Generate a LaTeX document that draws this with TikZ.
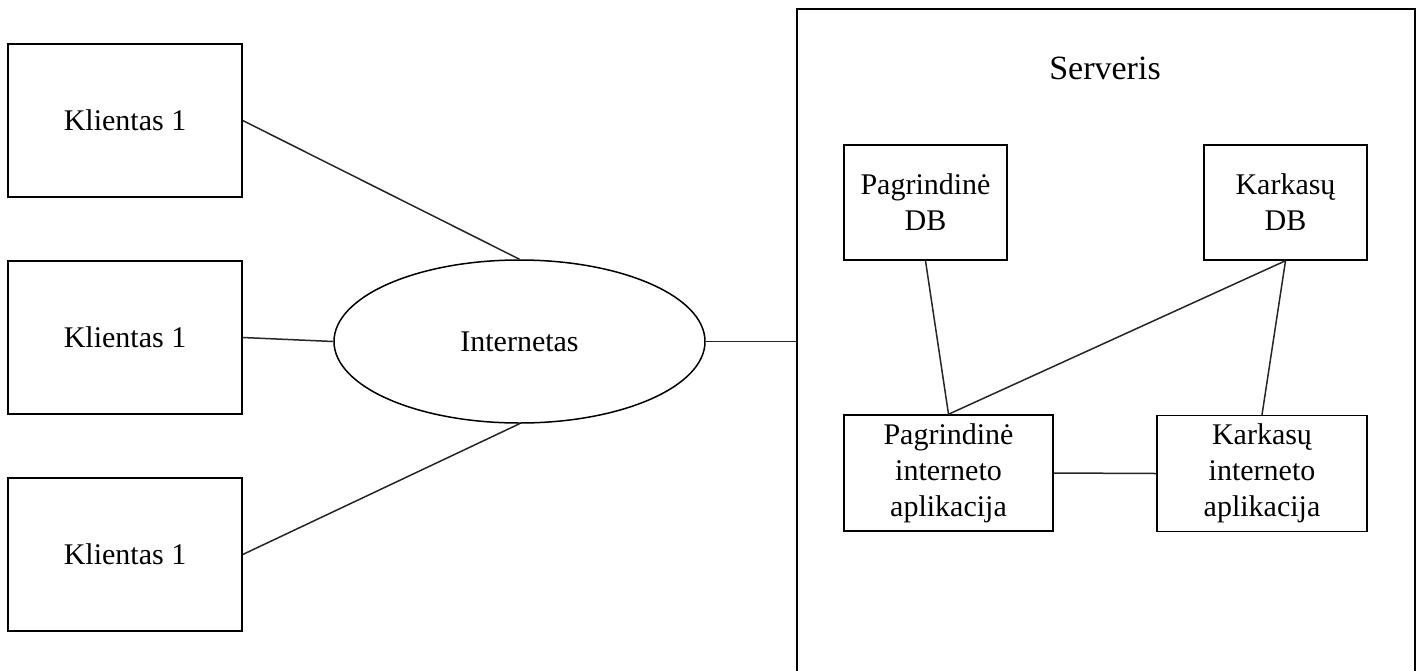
\documentclass[tikz,border=0pt]{standalone}
\usepackage{fontspec}
\setmainfont{Liberation Serif}
\usetikzlibrary{shapes.geometric}
\tikzset{
    client-box/.style = {draw, rectangle, line width=1.5pt, minimum width=234pt, minimum height=153pt, inner sep=0pt},
    inner-box/.style = {draw, rectangle, line width=1.5pt, align=center, inner sep=0pt},
    net-ellipse/.style = {draw, ellipse, line width=1.5pt, minimum width=371pt, minimum height=163pt, inner sep=0pt},
    link/.style = {draw=black!85, line width=1.5pt},
}

\begin{document}
\begin{tikzpicture}[x=1pt, y=-1pt, font=\fontsize{30}{36}\selectfont]
\useasboundingbox (0,0) rectangle (1421,670);
% clients and internet
\node[client-box] (client1) at (125,120.5) {Klientas 1};
\node[client-box] (client2) at (125,337.5) {Klientas 1};
\node[client-box] (client3) at (125,554.5) {Klientas 1};
\node[net-ellipse] (net) at (519.5,341.5) {Internetas};
% server
\node[draw, rectangle, line width=1.5pt, minimum width=618pt, minimum height=672pt, inner sep=0pt] (server) at (1106,345) {};
\node[font=\fontsize{34}{40}\selectfont] (server-title) at (1105,68) {Serveris};
\node[inner-box, minimum width=163pt, minimum height=115pt] (main-db) at (925.5,202.5) {Pagrindinė\\DB};
\node[inner-box, minimum width=163pt, minimum height=115pt] (frame-db) at (1285.5,202.5) {Karkasų\\DB};
\node[inner-box, minimum width=209pt, minimum height=116pt] (main-app) at (948.5,473) {Pagrindinė\\interneto\\aplikacija};
\node[inner-box, minimum width=210pt, minimum height=116pt] (frame-app) at (1262,473.5) {Karkasų\\interneto\\aplikacija};
% connections
\draw[link] (client1.east) -- (net.north);
\draw[link] (client2.east) -- (net.west);
\draw[link] (client3.east) -- (net.south);
\draw[link] (net.east) -- (net.east -| server.west);
\draw[link] (main-db.south) -- (main-app.north);
\draw[link] (frame-db.south) -- (main-app.north);
\draw[link] (frame-db.south) -- (frame-app.north);
\draw[link] (main-app.east) -- (frame-app.west);
\end{tikzpicture}
\end{document}
